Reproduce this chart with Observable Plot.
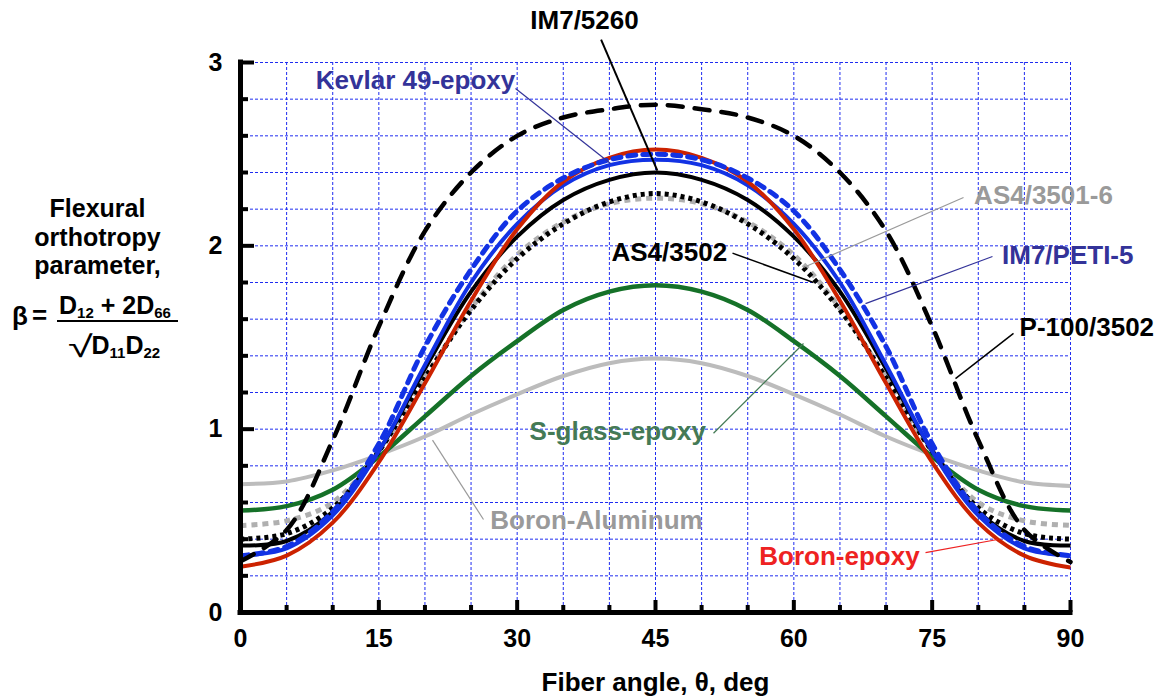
<!DOCTYPE html>
<html>
<head>
<meta charset="utf-8">
<script src="https://cdn.jsdelivr.net/npm/d3@7"></script>
<script src="https://cdn.jsdelivr.net/npm/@observablehq/plot@0.6"></script>
<style>
  html, body { margin: 0; padding: 0; background: #fff; }
  #wrap { position: relative; width: 1163px; height: 700px; font-family: "Liberation Sans", Arial, Helvetica, sans-serif; font-weight: bold; color: #000; }
  #wrap .f { position: absolute; font-size: 25px; line-height: 1; white-space: nowrap; }
  #wrap sub { font-size: 15px; vertical-align: -4px; line-height: 0; }
  #wrap .rad { display: inline-block; font-weight: normal; font-size: 30px; transform: scaleX(1.5); transform-origin: left center; margin-right: 7px; vertical-align: -3px; }
</style>
</head>
<body>
<div id="wrap"></div>
<script>
// ---------- data ----------
const angles = [0, 5, 10, 15, 20, 25, 30, 35, 40, 45, 50, 55, 60, 65, 70, 75, 80, 85, 90];

const boronAluminum = [0.70, 0.715, 0.775, 0.86, 0.96, 1.08, 1.19, 1.29, 1.36, 1.385, 1.36, 1.29, 1.19, 1.08, 0.96, 0.86, 0.775, 0.71, 0.69];
const sGlassEpoxy   = [0.556, 0.58, 0.67, 0.85, 1.07, 1.29, 1.48, 1.65, 1.75, 1.785, 1.75, 1.65, 1.48, 1.29, 1.07, 0.85, 0.67, 0.58, 0.556];
const as4_3501_6    = [0.475, 0.50, 0.60, 0.88, 1.28, 1.66, 1.95, 2.13, 2.23, 2.26, 2.23, 2.13, 1.95, 1.66, 1.28, 0.88, 0.60, 0.50, 0.475];
const as4_3502      = [0.40, 0.43, 0.57, 0.88, 1.28, 1.65, 1.93, 2.12, 2.24, 2.285, 2.24, 2.12, 1.93, 1.65, 1.28, 0.88, 0.57, 0.43, 0.40];
const im7_5260      = [0.365, 0.39, 0.55, 0.88, 1.33, 1.75, 2.05, 2.25, 2.36, 2.40, 2.36, 2.25, 2.05, 1.75, 1.33, 0.88, 0.55, 0.39, 0.365];
const kevlar49      = [0.31, 0.35, 0.53, 0.88, 1.35, 1.80, 2.12, 2.33, 2.44, 2.47, 2.44, 2.33, 2.12, 1.80, 1.35, 0.88, 0.53, 0.35, 0.31];
const boronEpoxy    = [0.25, 0.31, 0.49, 0.82, 1.25, 1.70, 2.09, 2.35, 2.48, 2.525, 2.48, 2.35, 2.09, 1.70, 1.25, 0.82, 0.49, 0.31, 0.245];
const im7Peti5      = [0.31, 0.36, 0.55, 0.92, 1.45, 1.87, 2.19, 2.37, 2.47, 2.50, 2.47, 2.37, 2.19, 1.87, 1.45, 0.92, 0.55, 0.36, 0.31];
const p100_3502     = [0.28, 0.45, 0.94, 1.56, 2.08, 2.40, 2.60, 2.70, 2.745, 2.77, 2.745, 2.70, 2.60, 2.40, 2.08, 1.56, 0.94, 0.45, 0.275];

const seriesNames = ["Boron-Aluminum", "S-glass-epoxy", "AS4/3501-6", "AS4/3502", "IM7/5260", "Kevlar 49-epoxy", "Boron-epoxy", "IM7/PETI-5", "P-100/3502"];
const seriesValues = [boronAluminum, sGlassEpoxy, as4_3501_6, as4_3502, im7_5260, kevlar49, boronEpoxy, im7Peti5, p100_3502];

const xMajorTicks = [0, 15, 30, 45, 60, 75, 90];
const xMinorTicks = [5, 10, 20, 25, 35, 40, 50, 55, 65, 70, 80, 85];
const xGrid = [5, 10, 15, 20, 25, 30, 35, 40, 45, 50, 55, 60, 65, 70, 75, 80, 85, 90];
const yMajorTicks = [0, 1, 2, 3];
const yMinorTicks = [0.2, 0.4, 0.6, 0.8, 1.2, 1.4, 1.6, 1.8, 2.2, 2.4, 2.6, 2.8];
const yGrid = [0.2, 0.4, 0.6, 0.8, 1, 1.2, 1.4, 1.6, 1.8, 2, 2.2, 2.4, 2.6, 2.8, 3];

const xTitle = "Fiber angle, θ, deg";
const yTitle = "Flexural\northotropy\nparameter,";

// annotation labels (data coordinates) and their leader lines
const labelText  = ["IM7/5260", "Kevlar 49-epoxy", "AS4/3501-6", "IM7/PETI-5", "P-100/3502", "AS4/3502", "S-glass-epoxy", "Boron-Aluminum", "Boron-epoxy"];
const labelAngle = [37.3, 18.98, 87.07, 89.7, 91.77, 46.5, 40.9, 38.6, 64.95];
const labelBeta  = [3.229, 2.902, 2.275, 1.947, 1.555, 1.964, 0.987, 0.502, 0.305];
const leadAngle1 = [39.1, 29.82, 78.40, 81.54, 83.82, 53.35, 51.29, 26.35, 74.28];
const leadBeta1  = [3.125, 2.858, 2.264, 1.942, 1.522, 1.96, 0.978, 0.507, 0.327];
const leadAngle2 = [45.2, 40.12, 61.05, 67.77, 77.53, 62.13, 61.05, 20.82, 82.09];
const leadBeta2  = [2.41, 2.449, 1.882, 1.685, 1.276, 1.80, 1.467, 0.94, 0.398];

// ---------- styles ----------
const lineStyle = {
  "Boron-Aluminum":  {stroke: "#bcbcbc", w: 4,   dash: null,    cap: "butt"},
  "S-glass-epoxy":   {stroke: "#157128", w: 4.5, dash: null,    cap: "butt"},
  "AS4/3501-6":      {stroke: "#b0b0b0", w: 5,   dash: "6,5",   cap: "butt"},
  "AS4/3502":        {stroke: "#000000", w: 5,   dash: "4,4",   cap: "butt"},
  "IM7/5260":        {stroke: "#000000", w: 4,   dash: null,    cap: "butt"},
  "Kevlar 49-epoxy": {stroke: "#1232e4", w: 4,   dash: null,    cap: "butt"},
  "Boron-epoxy":     {stroke: "#cc2200", w: 4,   dash: null,    cap: "butt"},
  "IM7/PETI-5":      {stroke: "#1232e4", w: 5,   dash: "8,7",   cap: "round"},
  "P-100/3502":      {stroke: "#000000", w: 4.5, dash: "15,12", cap: "round"}
};
const labelStyle = {
  "IM7/5260":        {fill: "#000000", lead: "#000000", lw: 2},
  "Kevlar 49-epoxy": {fill: "#333399", lead: "#333399", lw: 1.2},
  "AS4/3501-6":      {fill: "#9a9a9a", lead: "#9a9a9a", lw: 1.2},
  "IM7/PETI-5":      {fill: "#333399", lead: "#333399", lw: 1.2},
  "P-100/3502":      {fill: "#000000", lead: "#000000", lw: 1.5},
  "AS4/3502":        {fill: "#000000", lead: "#000000", lw: 1.5},
  "S-glass-epoxy":   {fill: "#447a55", lead: "#447a55", lw: 1.2},
  "Boron-Aluminum":  {fill: "#9a9a9a", lead: "#9a9a9a", lw: 1.2},
  "Boron-epoxy":     {fill: "#ee2222", lead: "#ee2222", lw: 1.2}
};

// ---------- tables ----------
const rows = seriesNames.flatMap((name, i) => angles.map((a, j) => ({series: name, angle: a, beta: seriesValues[i][j]})));
const labels = labelText.map((t, i) => ({text: t, x: labelAngle[i], y: labelBeta[i], x1: leadAngle1[i], y1: leadBeta1[i], x2: leadAngle2[i], y2: leadBeta2[i]}));

const W = 1163, H = 700, ML = 240, MR = 93, MT = 62, MB = 88;
const plotW = W - ML - MR, plotH = H - MT - MB;
const FONT = "Liberation Sans, Arial, Helvetica, sans-serif";

const gridColor = "#1f2cf0";

const marks = [
  Plot.gridX(xGrid, {stroke: gridColor, strokeOpacity: 1, strokeWidth: 1, strokeDasharray: "3,2"}),
  Plot.gridY(yGrid, {stroke: gridColor, strokeOpacity: 1, strokeWidth: 1, strokeDasharray: "3,2"}),
  ...seriesNames.map(name => {
    const s = lineStyle[name];
    return Plot.line(rows.filter(d => d.series === name), {
      x: "angle", y: "beta", curve: "catmull-rom",
      stroke: s.stroke, strokeWidth: s.w, strokeDasharray: s.dash, strokeLinecap: s.cap, strokeLinejoin: "round"
    });
  }),
  // leader lines
  ...labels.map(l => Plot.link([l], {x1: "x1", y1: "y1", x2: "x2", y2: "y2", stroke: labelStyle[l.text].lead, strokeWidth: labelStyle[l.text].lw})),
  // labels
  ...labels.map(l => Plot.text([l], {x: "x", y: "y", text: "text", fill: labelStyle[l.text].fill, fontSize: 26, fontWeight: "bold", textAnchor: "middle", fontFamily: FONT})),
  // axis lines
  Plot.ruleX([0], {stroke: "#000", strokeWidth: 5, strokeLinecap: "square"}),
  Plot.ruleY([0], {stroke: "#000", strokeWidth: 5, strokeLinecap: "square"}),
  // inward ticks
  Plot.tickX(xMajorTicks, {x: d => d, insetTop: plotH - 12, stroke: "#000", strokeWidth: 4}),
  Plot.tickX(xMinorTicks, {x: d => d, insetTop: plotH - 7, stroke: "#000", strokeWidth: 4}),
  Plot.tickY(yMajorTicks, {y: d => d, insetRight: plotW - 14, stroke: "#000", strokeWidth: 4}),
  Plot.tickY(yMinorTicks, {y: d => d, insetRight: plotW - 8, stroke: "#000", strokeWidth: 4}),
  // tick labels
  Plot.axisX({ticks: xMajorTicks, tickSize: 0, tickPadding: 17, fontSize: 25, fontWeight: "bold", label: null, tickFormat: d => String(d)}),
  Plot.axisY({ticks: yMajorTicks, tickSize: 0, tickPadding: 18, fontSize: 25, fontWeight: "bold", label: null, tickFormat: d => String(d)}),
  // axis titles
  Plot.text([xTitle], {frameAnchor: "bottom", dy: 78, fontSize: 26, fontWeight: "bold", fontFamily: FONT}),
  Plot.text([yTitle], {frameAnchor: "top-left", dx: -143, dy: 174, fontSize: 25, fontWeight: "bold", lineHeight: 1.15, textAnchor: "middle", lineAnchor: "middle", fontFamily: FONT})
];

const chart = Plot.plot({
  width: W, height: H,
  marginLeft: ML, marginRight: MR, marginTop: MT, marginBottom: MB,
  x: {domain: [0, 90]},
  y: {domain: [0, 3]},
  style: {fontFamily: FONT, background: "#fff", overflow: "visible", color: "#000"},
  marks
});

const wrap = document.getElementById("wrap");
wrap.appendChild(chart);

// formula for beta (HTML overlay)
const formula = [
  {html: "β", left: 12, top: 303, size: 26},
  {html: "=", left: 32, top: 302, size: 26},
  {html: "D<sub>12</sub> + 2D<sub>66</sub>", left: 59, top: 293, size: 25},
  {html: "<span class=\"rad\">√</span>D<sub>11</sub>D<sub>22</sub>", left: 68, top: 332, size: 25}
];
formula.forEach(f => {
  const d = document.createElement("div");
  d.className = "f";
  d.style.left = f.left + "px";
  d.style.top = f.top + "px";
  d.style.fontSize = f.size + "px";
  d.innerHTML = f.html;
  wrap.appendChild(d);
});
const bar = document.createElement("div");
bar.style.cssText = "position:absolute;left:57px;top:320px;width:121px;height:2px;background:#000";
wrap.appendChild(bar);
</script>
</body>
</html>
